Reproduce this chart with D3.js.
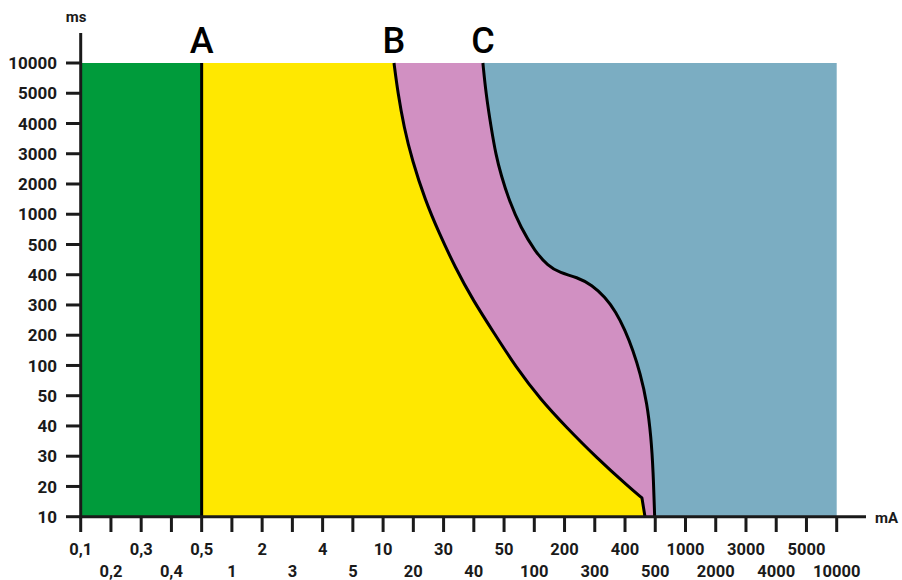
<!DOCTYPE html>
<html>
<head>
<meta charset="utf-8">
<script src="https://cdn.jsdelivr.net/npm/d3@7"></script>
<style>
  html, body { margin: 0; padding: 0; background: #fff; }
  text { font-family: Roboto, "Noto Sans", sans-serif; fill: #1a1a1a; }
</style>
</head>
<body>
<div id="chart"></div>
<script>
var width = 902;
var height = 580;

// axis categories (log-like, evenly spaced)
var xTicks = [0.1, 0.2, 0.3, 0.4, 0.5, 1, 2, 3, 4, 5, 10, 20, 30, 40, 50, 100, 200, 300, 400, 500, 1000, 2000, 3000, 4000, 5000, 10000];
var xTickLabels = ["0,1", "0,2", "0,3", "0,4", "0,5", "1", "2", "3", "4", "5", "10", "20", "30", "40", "50", "100", "200", "300", "400", "500", "1000", "2000", "3000", "4000", "5000", "10000"];
var yTicks = [10, 20, 30, 40, 50, 100, 200, 300, 400, 500, 1000, 2000, 3000, 4000, 5000, 10000];

// boundary curves (mA, ms)
var curveA_mA = [0.5, 0.5];
var curveA_ms = [10000, 10];
var curveB_mA = [13.6, 14.9, 16.9, 19.6, 23.9, 28.5, 33.8, 39.7, 46.7, 69.5, 122, 205, 304, 413, 456];
var curveB_ms = [10000, 5000, 3880, 2790, 1470, 690, 425, 316, 207, 97.5, 48.6, 39.7, 29.7, 19.8, 16.2];
var curveB_end = [466, 10];
var curveC_mA = [43.0, 44.0, 45.7, 47.3, 49.0, 58, 78, 102, 145, 185, 241, 291, 334, 370, 400, 426, 450, 473, 486, 493, 498];
var curveC_ms = [10000, 5000, 3880, 2960, 2300, 1470, 770, 478, 429, 406, 392, 366, 326, 277, 217, 151, 87.5, 47.6, 36.3, 25.4, 10];

var zoneLabels = ["A", "B", "C"];
var colors = { green: "#009b3b", yellow: "#ffe800", pink: "#d190c2", blue: "#7badc2", ink: "#1a1a1a" };

var svg = d3.select("#chart")
    .append("svg")
    .attr("width", width)
    .attr("height", height);

var xPoint = d3.scalePoint().domain(xTicks).range([80.7, 836.7]);
var yPoint = d3.scalePoint().domain(yTicks).range([516.7, 63]);
// piecewise linear between the category positions
var xScale = d3.scaleLinear().domain(xTicks).range(xTicks.map(function (d) { return xPoint(d); }));
var yScale = d3.scaleLinear().domain(yTicks).range(yTicks.map(function (d) { return yPoint(d); }));

var xMin = xScale(0.1), xMax = xScale(10000);
var yTop = yScale(10000), yBot = yScale(10);

function pts(xs, ys) {
    return xs.map(function (d, i) { return [xScale(d), yScale(ys[i])]; });
}

var smooth = d3.line().curve(d3.curveBasis);

var bPts = pts(curveB_mA, curveB_ms);
var cPts = pts(curveC_mA, curveC_ms);
var bEnd = [xScale(curveB_end[0]), yScale(curveB_end[1])];

var pathB = smooth(bPts) + "L" + bEnd[0] + "," + bEnd[1];
var pathC = smooth(cPts);

// zones
svg.append("rect")
    .attr("x", xMin).attr("y", yTop)
    .attr("width", xMax - xMin).attr("height", yBot - yTop)
    .attr("fill", colors.blue);

svg.append("path")
    .attr("d", pathC + "L" + xMin + "," + yBot + "L" + xMin + "," + yTop + "Z")
    .attr("fill", colors.pink);

svg.append("path")
    .attr("d", pathB + "L" + xMin + "," + yBot + "L" + xMin + "," + yTop + "Z")
    .attr("fill", colors.yellow);

svg.append("rect")
    .attr("x", xMin).attr("y", yTop)
    .attr("width", xScale(0.5) - xMin).attr("height", yBot - yTop)
    .attr("fill", colors.green);

// boundary lines
svg.append("path")
    .attr("d", d3.line()(pts(curveA_mA, curveA_ms)))
    .attr("fill", "none").attr("stroke", "#000").attr("stroke-width", 3);
svg.append("path")
    .attr("d", pathB)
    .attr("fill", "none").attr("stroke", "#000").attr("stroke-width", 3)
    .attr("stroke-linejoin", "round");
svg.append("path")
    .attr("d", pathC)
    .attr("fill", "none").attr("stroke", "#000").attr("stroke-width", 3);

// zone letters
var letterX = [curveA_mA[0], curveB_mA[0], curveC_mA[0]];
svg.selectAll(".zone")
    .data(zoneLabels)
    .enter()
    .append("text")
    .attr("class", "zone")
    .attr("x", function (d, i) { return xScale(letterX[i]); })
    .attr("y", 53)
    .attr("text-anchor", "middle")
    .style("font-size", "36px")
    .style("font-weight", 500)
    .style("fill", "#000")
    .text(function (d) { return d; });

// axes
svg.append("line")
    .attr("x1", xMin).attr("x2", xMin)
    .attr("y1", 33).attr("y2", yBot + 1.5)
    .attr("stroke", colors.ink).attr("stroke-width", 3);
svg.append("line")
    .attr("x1", xMin - 1.5).attr("x2", 866)
    .attr("y1", yBot).attr("y2", yBot)
    .attr("stroke", colors.ink).attr("stroke-width", 3);

svg.selectAll(".ytick")
    .data(yTicks)
    .enter()
    .append("line")
    .attr("x1", 66).attr("x2", xMin)
    .attr("y1", function (d) { return yScale(d); })
    .attr("y2", function (d) { return yScale(d); })
    .attr("stroke", colors.ink).attr("stroke-width", 3);

svg.selectAll(".ylab")
    .data(yTicks)
    .enter()
    .append("text")
    .attr("x", 57)
    .attr("y", function (d) { return yScale(d); })
    .attr("dy", "0.36em")
    .attr("text-anchor", "end")
    .style("font-size", "17px")
    .style("font-weight", 700)
    .text(function (d) { return d; });

svg.selectAll(".xtick")
    .data(xTicks)
    .enter()
    .append("line")
    .attr("x1", function (d) { return xScale(d); })
    .attr("x2", function (d) { return xScale(d); })
    .attr("y1", yBot).attr("y2", 532)
    .attr("stroke", colors.ink).attr("stroke-width", 3);

svg.selectAll(".xlab")
    .data(xTicks)
    .enter()
    .append("text")
    .attr("x", function (d) { return xScale(d); })
    .attr("y", function (d, i) { return i % 2 == 0 ? 555 : 577; })
    .attr("text-anchor", "middle")
    .style("font-size", "16.5px")
    .style("font-weight", 700)
    .text(function (d, i) { return xTickLabels[i]; });

svg.append("text")
    .attr("x", 76).attr("y", 22)
    .attr("text-anchor", "middle")
    .style("font-size", "15px")
    .style("font-weight", 700)
    .text("ms");

svg.append("text")
    .attr("x", 875).attr("y", 523)
    .style("font-size", "15px")
    .style("font-weight", 700)
    .text("mA");
</script>
</body>
</html>
